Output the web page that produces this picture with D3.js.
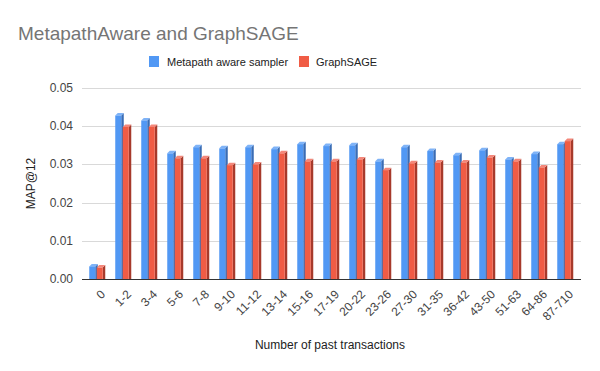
<!DOCTYPE html>
<html>
<head>
<meta charset="utf-8">
<script src="https://cdn.jsdelivr.net/npm/d3@7"></script>
<style>
  body { margin: 0; background: #fff; }
  svg { display: block; font-family: "Liberation Sans", Arial, sans-serif; }
</style>
</head>
<body>
<div id="chart"></div>
<script>
var categories = ["0", "1-2", "3-4", "5-6", "7-8", "9-10", "11-12", "13-14", "15-16", "17-19",
    "20-22", "23-26", "27-30", "31-35", "36-42", "43-50", "51-63", "64-86", "87-710"];
var metapathValues = [0.0033, 0.0428, 0.0415, 0.0329, 0.0345, 0.0342, 0.0345, 0.0340, 0.0353, 0.0348,
    0.0350, 0.0308, 0.0345, 0.0335, 0.0324, 0.0337, 0.0313, 0.0327, 0.0353];
var graphsageValues = [0.0030, 0.0398, 0.0398, 0.0316, 0.0316, 0.0298, 0.0300, 0.0329, 0.0308, 0.0308,
    0.0313, 0.0285, 0.0303, 0.0305, 0.0305, 0.0318, 0.0308, 0.0292, 0.0361];
var seriesNames = ["Metapath aware sampler", "GraphSAGE"];
var yTicks = [0, 0.01, 0.02, 0.03, 0.04, 0.05];

var W = 600, H = 371;
var plot = { left: 84, right: 578, top: 88, bottom: 279 };
var colors = [
    { front: "#5198f4", side: "#3a6db5", top: "#7fb3f7" },
    { front: "#f05c45", side: "#a73a2b", top: "#f4877a" }
];

var svg = d3.select("#chart").append("svg").attr("width", W).attr("height", H);

// title
svg.append("text").attr("x", 18).attr("y", 40)
    .attr("font-size", 19).attr("fill", "#757575")
    .text("MetapathAware and GraphSAGE");

// legend
var legend = [{ x: 149, tx: 167 }, { x: 299, tx: 316 }];
legend.forEach(function (l, i) {
    svg.append("rect").attr("x", l.x).attr("y", 56).attr("width", 10).attr("height", 11)
        .attr("fill", colors[i].front);
    svg.append("text").attr("x", l.tx).attr("y", 66).attr("font-size", 11).attr("fill", "#222")
        .text(seriesNames[i]);
});

var x = d3.scaleBand().domain(categories).range([plot.left, plot.right]).paddingInner(0.4).paddingOuter(0.2);
var y = d3.scaleLinear().domain([0, 0.05]).range([plot.bottom, plot.top]);

// gridlines
svg.append("g").selectAll("line").data(yTicks.slice(1)).enter().append("line")
    .attr("x1", 82).attr("x2", 581)
    .attr("y1", function (d) { return Math.round(y(d)) + 0.5; })
    .attr("y2", function (d) { return Math.round(y(d)) + 0.5; })
    .attr("stroke", "#d9d9d9").attr("stroke-width", 1);

// y labels
svg.append("g").selectAll("text").data(yTicks).enter().append("text")
    .attr("x", 73).attr("y", function (d) { return y(d) + 4; })
    .attr("text-anchor", "end").attr("font-size", 12).attr("fill", "#444")
    .text(function (d) { return d3.format(".2f")(d); });

svg.append("text").attr("transform", "translate(35," + ((plot.top + plot.bottom) / 2) + ") rotate(-90)")
    .attr("text-anchor", "middle").attr("font-size", 12).attr("fill", "#222").text("MAP@12");

// bars with a small 3D look
var barW = 6, depth = 2.5, gap = 1.5;
var series = [metapathValues, graphsageValues];
series.forEach(function (vals, si) {
    var g = svg.append("g");
    var data = vals.map(function (v, i) { return { cat: categories[i], v: v }; });
    var bx = function (d) { return x(d.cat) + x.bandwidth() / 2 - barW - gap / 2 + si * (barW + gap) - 1; };
    var c = colors[si];
    // side face
    g.selectAll("path.side").data(data).enter().append("path")
        .attr("fill", c.side)
        .attr("d", function (d) {
            var x0 = bx(d) + barW, yt = y(d.v), yb = y(0);
            return "M" + x0 + "," + yt + "L" + (x0 + depth) + "," + (yt - depth) +
                "L" + (x0 + depth) + "," + yb + "L" + x0 + "," + yb + "Z";
        });
    // top face
    g.selectAll("path.top").data(data).enter().append("path")
        .attr("fill", c.top)
        .attr("d", function (d) {
            var x0 = bx(d), yt = y(d.v);
            return "M" + x0 + "," + yt + "L" + (x0 + depth) + "," + (yt - depth) +
                "L" + (x0 + barW + depth) + "," + (yt - depth) + "L" + (x0 + barW) + "," + yt + "Z";
        });
    // front face
    g.selectAll("rect").data(data).enter().append("rect")
        .attr("x", bx).attr("y", function (d) { return y(d.v); })
        .attr("width", barW).attr("height", function (d) { return y(0) - y(d.v); })
        .attr("fill", c.front);
});

// baseline
svg.append("line").attr("x1", 82).attr("x2", 581)
    .attr("y1", plot.bottom + 0.5).attr("y2", plot.bottom + 0.5)
    .attr("stroke", "#333").attr("stroke-width", 1);

// x labels
svg.append("g").selectAll("text").data(categories).enter().append("text")
    .attr("transform", function (d) {
        return "translate(" + (x(d) + x.bandwidth() / 2 + 3) + ",289) rotate(-45)";
    })
    .attr("text-anchor", "end").attr("dy", "0.7em").attr("font-size", 12).attr("fill", "#444")
    .text(function (d) { return d; });

svg.append("text").attr("x", 330).attr("y", 349).attr("text-anchor", "middle")
    .attr("font-size", 12).attr("fill", "#222").text("Number of past transactions");
</script>
</body>
</html>
